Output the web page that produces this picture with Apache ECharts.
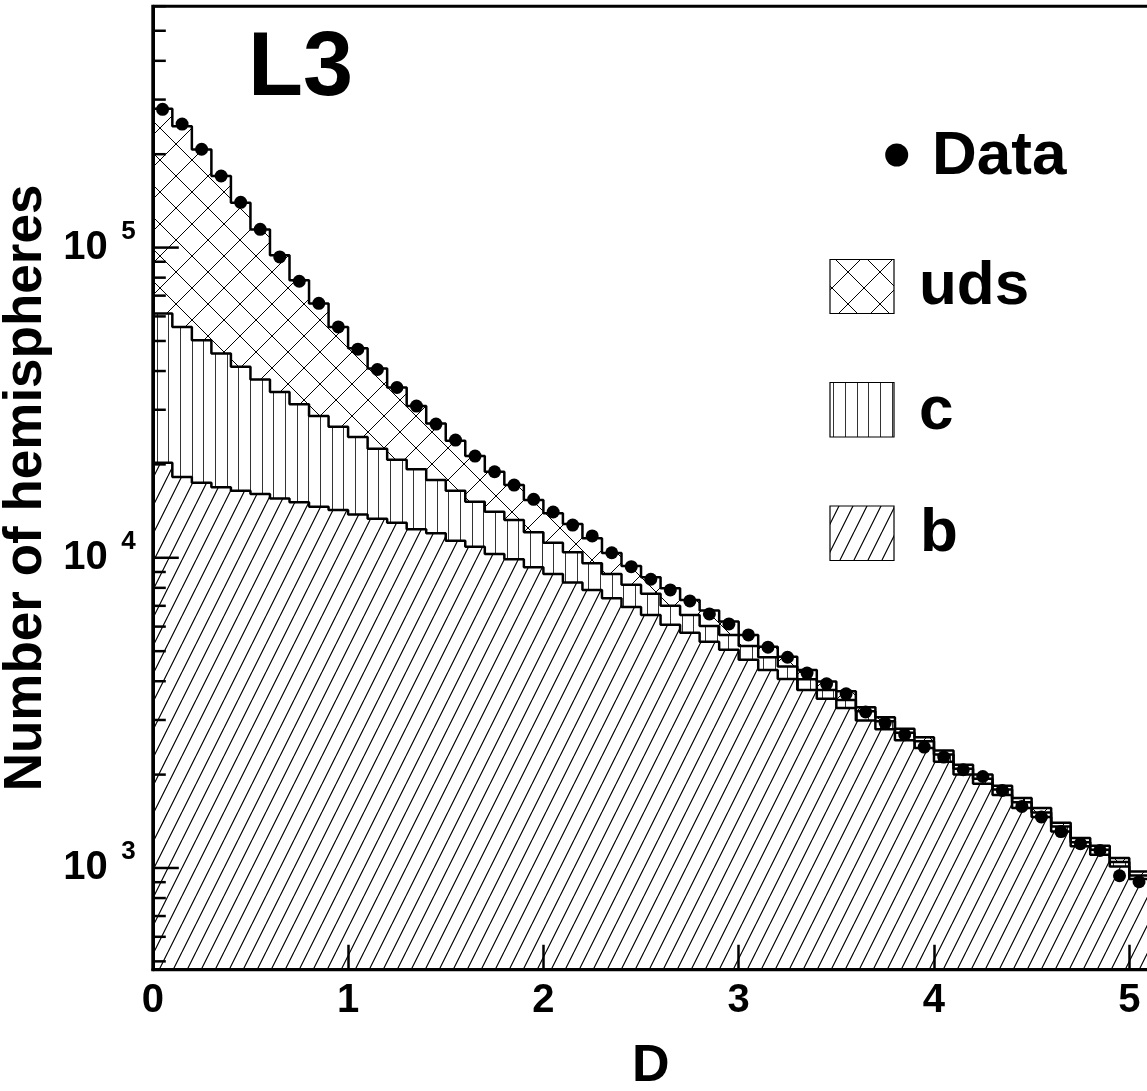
<!DOCTYPE html>
<html>
<head>
<meta charset="utf-8">
<script src="https://cdn.jsdelivr.net/npm/echarts@6/dist/echarts.min.js"></script>
<style>
html,body{margin:0;padding:0;background:#fff;}
#chart{width:1147px;height:1091px;}
</style>
</head>
<body>
<div id="chart"></div>
<script>
// ---- data ----
const binEdges = [0,0.1,0.2,0.3,0.4,0.5,0.6,0.7,0.8,0.9,1.0,1.1,1.2,1.3,1.4,1.5,1.6,1.7,1.8,1.9,2.0,
  2.1,2.2,2.3,2.4,2.5,2.6,2.7,2.8,2.9,3.0,3.1,3.2,3.3,3.4,3.5,3.6,3.7,3.8,3.9,4.0,
  4.1,4.2,4.3,4.4,4.5,4.6,4.7,4.8,4.9,5.0,5.1];

// stacked MC: uds + c + b (total)
const totalMC = [280400,246000,207000,170000,139600,114300,94450,78500,66000,55500,
  47400,40760,35400,30830,27100,23840,21280,18940,17160,15360,
  13910,12850,11560,10360,9410,8650,7980,7310,6760,6230,
  5640,5170,4800,4350,3990,3710,3300,3060,2810,2640,
  2390,2150,2000,1840,1680,1560,1400,1250,1180,1077,975];

// stacked MC: c + b
const cPlusB = [61300,55500,50300,45560,41260,37570,34260,31280,28620,26430,
  24500,22460,20700,19280,17810,16450,15160,14080,13240,12080,
  11180,10420,9600,8870,8180,7650,7000,6540,6030,5640,
  5200,4780,4460,4060,3750,3480,3200,2970,2730,2560,
  2320,2090,1940,1790,1630,1510,1360,1210,1145,1045,946];

// MC: b only
const bOnly = [20250,18200,17450,16870,16450,16050,15540,15090,14610,14250,
  13780,13350,12970,12360,11990,11350,10860,10290,9890,9320,
  8870,8320,7880,7410,6940,6540,6080,5730,5360,5050,
  4690,4350,4070,3750,3510,3280,2990,2800,2580,2435,
  2200,2000,1870,1720,1560,1460,1310,1175,1103,1012,922];

// measured data points
const dataPts = [279000,250100,207500,170100,139900,114500,93270,77900,66100,55500,
  47050,40460,35400,30830,26970,23960,21280,18940,17160,15430,
  14050,12750,11760,10380,9360,8527,7880,7260,6590,6120,
  5640,5150,4780,4250,3923,3643,3183,2931,2688,2453,
  2278,2073,1972,1778,1579,1460,1310,1198,1139,944,903];

const xTickLabels = ['0','1','2','3','4','5'];
const yMajorTicks = [1000,10000,100000];
const yMinorTicks = [500,600,700,800,900,2000,3000,4000,5000,6000,7000,8000,9000,
  20000,30000,40000,50000,60000,70000,80000,90000,200000,300000,400000,500000,600000];
const legendNames = ['Data','uds','c','b'];

// ---- helpers ----
const FONT = '"Liberation Sans", Arial, Helvetica, sans-serif';
function stepPoints(vals){
  const pts = [];
  for (let i = 0; i < vals.length; i++) pts.push([binEdges[i], vals[i]]);
  pts.push([binEdges[vals.length], vals[vals.length - 1]]);
  return pts;
}
const dataCenters = dataPts.map((v, i) => [(binEdges[i] + binEdges[i + 1]) / 2, v]);

function makePattern(kind){
  const c = document.createElement('canvas');
  let w, h;
  if (kind === 'cross') { w = 32; h = 32; }
  else if (kind === 'vert') { w = 35; h = 8; }
  else { w = 14; h = 28; }
  c.width = w; c.height = h;
  const g = c.getContext('2d');
  g.fillStyle = '#fff';
  g.fillRect(0, 0, w, h);
  g.strokeStyle = '#000';
  g.lineWidth = 1;
  g.beginPath();
  if (kind === 'cross') {
    g.moveTo(-2, -2); g.lineTo(w + 2, h + 2);
    g.moveTo(-2, h + 2); g.lineTo(w + 2, -2);
  } else if (kind === 'vert') {
    g.strokeStyle = '#333';
    [5.5, 17.5, 28.5].forEach(x => { g.moveTo(x, 0); g.lineTo(x, h); });
  } else {
    g.lineWidth = 1.2;
    [-w, 0, w].forEach(dx => { g.moveTo(dx, h); g.lineTo(dx + w, 0); });
  }
  g.stroke();
  return { image: c, repeat: 'repeat' };
}
const patUds = makePattern('cross');
const patC = makePattern('vert');
const patB = makePattern('diag');

function isPow10(v){
  const l = Math.log10(v);
  return Math.abs(l - Math.round(l)) < 1e-6;
}

function areaSeries(name, vals, pat, z){
  return {
    name: name, type: 'line', step: 'end', symbol: 'none', silent: true, z: z,
    data: stepPoints(vals),
    lineStyle: { width: 0, opacity: 0 },
    areaStyle: { color: pat, opacity: 1, origin: 'start' }
  };
}
function outlineSeries(vals){
  return {
    type: 'line', step: 'end', symbol: 'none', silent: true, z: 4,
    data: stepPoints(vals),
    lineStyle: { color: '#000', width: 2.5 }
  };
}

const chart = echarts.init(document.getElementById('chart'), null, { renderer: 'canvas' });

const option = {
  animation: false,
  backgroundColor: '#fff',
  grid: {
    left: 152.8, right: -1.8, top: 6.2, bottom: 121.3,
    show: true, borderColor: '#000', borderWidth: 3, backgroundColor: 'transparent',
    containLabel: false, outerBoundsMode: 'none'
  },
  xAxis: {
    type: 'value', min: 0, max: 5.1, interval: 1, z: 5,
    axisLine: { show: true, onZero: false, lineStyle: { color: '#000', width: 3 } },
    axisTick: { show: true, inside: true, length: 25, lineStyle: { color: '#000', width: 2.5 } },
    splitLine: { show: false },
    axisLabel: {
      margin: 11, color: '#000', fontSize: 40, fontWeight: 'bold', fontFamily: FONT,
      showMaxLabel: false,
      formatter: function (v) {
        const i = Math.round(v);
        return (Math.abs(v - i) < 1e-6 && i < xTickLabels.length) ? xTickLabels[i] : '';
      }
    },
    name: 'D', nameLocation: 'middle', nameGap: 71,
    nameTextStyle: { color: '#000', fontSize: 52, fontWeight: 'bold', fontFamily: FONT }
  },
  yAxis: [
    {
      type: 'log', logBase: 10, min: 470, max: 600000, position: 'left', z: 5,
      axisLine: { show: true, lineStyle: { color: '#000', width: 3 } },
      axisTick: { show: false },
      splitLine: { show: false },
      minorTick: { show: false },
      axisLabel: {
        margin: 45, color: '#000', fontSize: 40, fontWeight: 'bold', fontFamily: FONT,
        formatter: function (v) { return isPow10(v) ? '10' : ''; }
      },
      name: 'Number of hemispheres', nameLocation: 'middle', nameGap: 86,
      nameTextStyle: { color: '#000', fontSize: 53, fontWeight: 'bold', fontFamily: FONT }
    },
    {
      type: 'log', logBase: 10, min: 470, max: 600000, position: 'left', offset: 0, z: 5,
      axisLine: { show: false },
      axisTick: { show: false },
      splitLine: { show: false },
      axisLabel: {
        margin: 17, color: '#000', fontSize: 26, fontWeight: 'bold', fontFamily: FONT,
        verticalAlign: 'bottom', lineHeight: 32,
        formatter: function (v) { return isPow10(v) ? String(Math.round(Math.log10(v))) : ''; }
      }
    }
  ],
  series: [
    areaSeries('uds', totalMC, patUds, 1),
    areaSeries('c', cPlusB, patC, 2),
    areaSeries('b', bOnly, patB, 3),
    outlineSeries(totalMC),
    outlineSeries(cPlusB),
    outlineSeries(bOnly),
    {
      type: 'custom', coordinateSystem: 'cartesian2d', silent: true, z: 6, clip: false,
      data: yMinorTicks.concat(yMajorTicks).map(v => [0, v]),
      encode: { x: 0, y: 1 },
      renderItem: function (params, api) {
        const p = api.coord([api.value(0), api.value(1)]);
        const len = params.dataIndex >= yMinorTicks.length ? 26 : 13;
        return {
          type: 'line',
          shape: { x1: p[0], y1: p[1], x2: p[0] + len, y2: p[1] },
          style: { stroke: '#000', lineWidth: 2.5 }
        };
      }
    },
    {
      name: 'Data', type: 'scatter', symbol: 'circle', symbolSize: 13, z: 7, silent: true,
      itemStyle: { color: '#000', opacity: 1, borderWidth: 0 },
      data: dataCenters
    }
  ],
  graphic: [
    { type: 'text', x: 248, y: 70.5, z: 10,
      style: { text: 'L3', font: 'bold 90px ' + FONT, fill: '#000',
               align: 'left', verticalAlign: 'middle', textAlign: 'left', textVerticalAlign: 'middle' } },
    { type: 'circle', z: 10, shape: { cx: 896.7, cy: 155, r: 11.5 }, style: { fill: '#000' } },
    { type: 'text', x: 932, y: 156.5, z: 10,
      style: { text: legendNames[0], font: 'bold 62px ' + FONT, fill: '#000',
               align: 'left', verticalAlign: 'middle', textAlign: 'left', textVerticalAlign: 'middle' } },
    { type: 'rect', z: 10, shape: { x: 830, y: 259.5, width: 64, height: 54 },
      style: { fill: patUds, stroke: '#000', lineWidth: 1.2 } },
    { type: 'text', x: 919, y: 286.5, z: 10,
      style: { text: legendNames[1], font: 'bold 62px ' + FONT, fill: '#000',
               align: 'left', verticalAlign: 'middle', textAlign: 'left', textVerticalAlign: 'middle' } },
    { type: 'rect', z: 10, shape: { x: 830, y: 382.5, width: 64, height: 54.5 },
      style: { fill: patC, stroke: '#000', lineWidth: 1.2 } },
    { type: 'text', x: 919, y: 411.5, z: 10,
      style: { text: legendNames[2], font: 'bold 62px ' + FONT, fill: '#000',
               align: 'left', verticalAlign: 'middle', textAlign: 'left', textVerticalAlign: 'middle' } },
    { type: 'rect', z: 10, shape: { x: 830, y: 506, width: 64, height: 54.5 },
      style: { fill: patB, stroke: '#000', lineWidth: 1.2 } },
    { type: 'text', x: 920, y: 533.5, z: 10,
      style: { text: legendNames[3], font: 'bold 62px ' + FONT, fill: '#000',
               align: 'left', verticalAlign: 'middle', textAlign: 'left', textVerticalAlign: 'middle' } }
  ]
};
chart.setOption(option);
</script>
</body>
</html>
